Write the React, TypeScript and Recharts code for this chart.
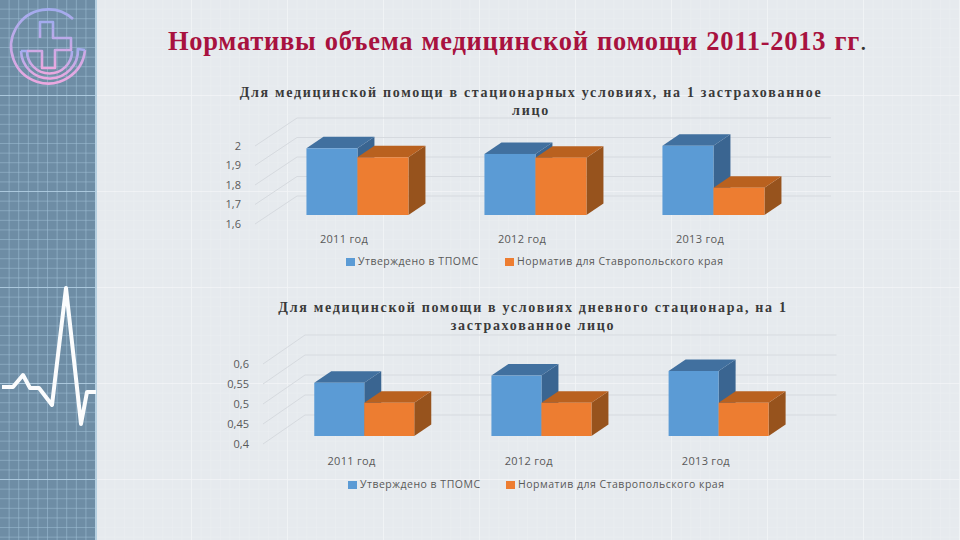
import React from "react";
import { BarChart, Bar, XAxis, YAxis, CartesianGrid, Legend } from "recharts";

const categories = ["2011 год", "2012 год", "2013 год"];
const seriesNames = ["Утверждено в ТПОМС", "Норматив для Ставропольского края"];
const inpatientApproved = [1.942, 1.913, 1.955];
const inpatientNorm = [1.896, 1.894, 1.74];
const dayApproved = [0.533, 0.551, 0.5625];
const dayNorm = [0.483, 0.483, 0.483];
const inpatientTicks = [1.6, 1.7, 1.8, 1.9, 2];
const dayTicks = [0.4, 0.45, 0.5, 0.55, 0.6];

const mainTitle = "Нормативы объема медицинской помощи 2011-2013 гг";
const title1 = ["Для медицинской помощи в стационарных условиях, на 1 застрахованное", "лицо"];
const title2 = ["Для медицинской помощи в условиях дневного стационара, на 1", "застрахованное лицо"];

const ecgPoints = "2,387 13,387 23,375 30,388 39,388 52,405 66,288 81,424 87,392 96,392";

const BLUE = { front: "#5B9BD5", top: "#41709F", side: "#3A6591" };
const ORANGE = { front: "#ED7D31", top: "#B9611F", side: "#97531D" };
const BAR_FONT = '"Open Sans", sans-serif';
const TITLE_FONT = '"Liberation Serif", serif';

const makeRows = (a: number[], b: number[]) =>
  categories.map((name, i) => ({ name, approved: a[i], norm: b[i] }));

const box3d = (colors: typeof BLUE, shiftX: number, shiftY: number, depthX: number, depthY: number) =>
  (props: any) => {
    const { x, y, width, height } = props;
    const l = x + shiftX;
    const r = l + width;
    const t = y + shiftY;
    const b = t + height;
    return (
      <g>
        <polygon points={`${r},${t} ${r + depthX},${t + depthY} ${r + depthX},${b + depthY} ${r},${b}`} fill={colors.side} />
        <polygon points={`${l},${t} ${l + depthX},${t + depthY} ${r + depthX},${t + depthY} ${r},${t}`} fill={colors.top} />
        <rect x={l} y={t} width={width} height={height} fill={colors.front} />
      </g>
    );
  };

const wall = (backX: number, backY: number) => (props: any) => {
  const { x1, x2, y1, key } = props;
  return (
    <g key={key}>
      <line x1={x1} y1={y1} x2={x1 + backX} y2={y1 + backY} stroke="#D6DADF" strokeWidth={1} />
      <line x1={x1 + backX} y1={y1 + backY} x2={x2 + backX} y2={y1 + backY} stroke="#D6DADF" strokeWidth={1} />
    </g>
  );
};

const legendContent = (xs: number[][]) => (props: any) => (
  <div style={{ position: "relative", height: 0, fontFamily: BAR_FONT, fontSize: 10.5, color: "#595959" }}>
    {(props.payload || []).map((p: any, i: number) => (
      <React.Fragment key={p.value}>
        <span style={{ position: "absolute", left: xs[i][0], top: -4, width: 9, height: 8, background: p.color }} />
        <span style={{ position: "absolute", left: xs[i][1], top: -8, whiteSpace: "nowrap", letterSpacing: 0.5 }}>{p.value}</span>
      </React.Fragment>
    ))}
  </div>
);

type PanelProps = {
  left: number; top: number; width: number; height: number;
  marginTop: number; marginRight: number;
  rows: any[]; domain: number[]; ticks: number[];
  shiftY: number; legendY: number; legendXs: number[][];
  backY: number; tickY: number;
};

function Panel(p: PanelProps) {
  return (
    <div style={{ position: "absolute", left: p.left, top: p.top }}>
      <BarChart
        width={p.width}
        height={p.height}
        data={p.rows}
        barCategoryGap="21.6%"
        barGap={0}
        margin={{ top: p.marginTop, right: p.marginRight, bottom: 10, left: 5 }}
        style={{ overflow: "visible" }}
      >
        <CartesianGrid vertical={false} horizontal={wall(42, p.backY) as any} />
        <XAxis
          dataKey="name"
          axisLine={false}
          tickLine={false}
          height={26}
          tickMargin={p.tickY}
          tick={{ fontSize: 11, letterSpacing: 0.3, fontFamily: BAR_FONT, fill: "#595959" }}
        />
        <YAxis
          domain={p.domain as any}
          ticks={p.ticks}
          width={40}
          axisLine={false}
          tickLine={false}
          interval={0}
          tickMargin={8}
          tickFormatter={(v: number) => String(v).replace(".", ",")}
          tick={{ fontSize: 11, fontFamily: BAR_FONT, fill: "#595959" }}
        />
        <Legend
          itemSorter={null as any}
          content={legendContent(p.legendXs) as any}
          wrapperStyle={{ left: 0, top: p.legendY, bottom: "auto", width: p.width, height: 0 }}
        />
        <Bar dataKey="approved" name={seriesNames[0]} fill={BLUE.front} isAnimationActive={false} shape={box3d(BLUE, 13, p.shiftY, 17, -11.5) as any} />
        <Bar dataKey="norm" name={seriesNames[1]} fill={ORANGE.front} isAnimationActive={false} shape={box3d(ORANGE, 13, p.shiftY, 17, -11.5) as any} />
      </BarChart>
    </div>
  );
}

function ChartTitle({ lines, top, center, spacing }: { lines: string[]; top: number; center: number; spacing: number }) {
  return (
    <>
      {lines.map((line, i) => (
        <div
          key={line}
          style={{
            position: "absolute", left: center - 340, width: 680, top: top + i * 18, textAlign: "center",
            fontFamily: TITLE_FONT, fontWeight: 700, fontSize: 14, lineHeight: "16px", letterSpacing: spacing,
            color: "#3A3A3A", whiteSpace: "nowrap",
          }}
        >
          {line}
        </div>
      ))}
    </>
  );
}

function Backdrop() {
  return (
    <svg width={960} height={540} style={{ position: "absolute", left: 0, top: 0 }}>
      <defs>
        <pattern id="minorLight" width={9.6} height={9.6} patternUnits="userSpaceOnUse">
          <path d="M9.6 0V9.6M0 9.6H9.6" stroke="#ECEFF2" strokeWidth={1} fill="none" />
        </pattern>
        <pattern id="majorLight" width={96} height={96} patternUnits="userSpaceOnUse">
          <path d="M96 0V96M0 96H96" stroke="#F3F5F7" strokeWidth={1.4} fill="none" />
        </pattern>
        <pattern id="minorDark" width={9.6} height={9.6} patternUnits="userSpaceOnUse">
          <path d="M9.6 0V9.6M0 9.6H9.6" stroke="#A2C2D8" strokeWidth={1} fill="none" />
        </pattern>
        <pattern id="majorDark" width={96} height={96} patternUnits="userSpaceOnUse">
          <path d="M0 96H96" stroke="#B5D2E6" strokeWidth={1.4} fill="none" />
        </pattern>
        <linearGradient id="logoGrad" x1="0" y1="0" x2="0" y2="1">
          <stop offset="0" stopColor="#A3ABEE" />
          <stop offset="1" stopColor="#EBA8E0" />
        </linearGradient>
      </defs>
      <rect width={960} height={540} fill="#E6EAEE" />
      <rect width={960} height={540} fill="url(#minorLight)" />
      <rect width={960} height={540} fill="url(#majorLight)" />
      <rect width={96} height={540} fill="#6E8DA5" />
      <rect width={96} height={540} fill="url(#minorDark)" />
      <rect width={96} height={540} fill="url(#majorDark)" />
      <rect x={95} width={2} height={540} fill="#B5CFE0" />
      <g fill="none" stroke="url(#logoGrad)" strokeWidth={2.6} strokeLinejoin="round">
        <path d="M73 19A37 37 0 1 0 85 50" />
        <path d="M21 51A28.5 28.5 0 0 0 78 49L85 50" />
        <path d="M21 51H27A22 22 0 0 0 72 51" />
        <path d="M27 51H42V68H55V50H71V38H53V22H40V38" />
      </g>
      <polyline points={ecgPoints} fill="none" stroke="#FBFCFD" strokeWidth={4} strokeLinejoin="round" />
    </svg>
  );
}

export default function App() {
  return (
    <div style={{ position: "absolute", left: 0, top: 0, width: 960, height: 540, overflow: "hidden" }}>
      <Backdrop />
      <div
        style={{
          position: "absolute", left: 168, top: 25, whiteSpace: "nowrap", fontFamily: TITLE_FONT,
          fontWeight: 700, fontSize: 26.5, lineHeight: "32px", letterSpacing: 0.72, wordSpacing: 1, color: "#A8123F",
        }}
      >
        {mainTitle}
        <span style={{ fontWeight: 400, color: "#333" }}>.</span>
      </div>
      <ChartTitle lines={title1} top={85} center={531} spacing={1.7} />
      <ChartTitle lines={title2} top={300} center={533} spacing={1.7} />
      <Panel
        left={210} top={110} width={640} height={150} marginTop={36} marginRight={61}
        rows={makeRows(inpatientApproved, inpatientNorm)} domain={[1.6, 2]} ticks={inpatientTicks}
        shiftY={-9} backY={-28} legendY={152} tickY={5}
        legendXs={[[136, 148], [295, 307]]}
      />
      <Panel
        left={218} top={330} width={640} height={150} marginTop={34} marginRight={63.5}
        rows={makeRows(dayApproved, dayNorm)} domain={[0.4, 0.6]} ticks={dayTicks}
        shiftY={-8} backY={-29} legendY={155} tickY={7}
        legendXs={[[130, 142], [288, 300]]}
      />
    </div>
  );
}
